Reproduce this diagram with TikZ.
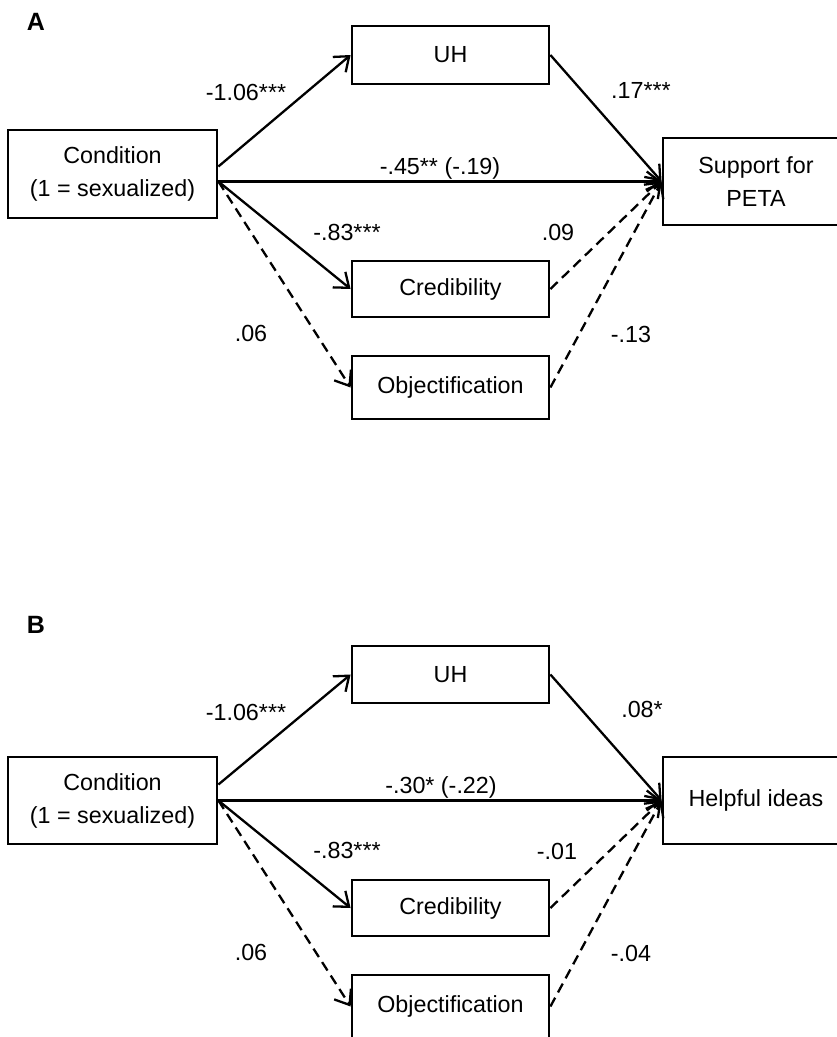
\documentclass[tikz,border=0pt]{standalone}
\usepackage{fontspec}
\setmainfont{Liberation Sans}
\usetikzlibrary{arrows.meta}
\begin{document}
\begin{tikzpicture}[x=1pt,y=-1pt,
  font=\fontsize{23.3}{33}\selectfont,
  box/.style={draw,line width=2.8pt,inner sep=0pt,align=center,anchor=center},
  med/.style={box,minimum width=197pt},
  con/.style={line width=2.3pt,-{Straight Barb[length=13pt,width=20pt,line width=2.3pt]}},
  dsh/.style={con,dash pattern=on 10pt off 6pt},
  lab/.style={anchor=base,inner sep=0pt},
  panel/.style={anchor=base,inner sep=0pt,font=\fontsize{25}{28}\selectfont\bfseries}]
\useasboundingbox (0,0) rectangle (837,1037);
\clip (0,0) rectangle (837,1037);
\fill[white] (0,0) rectangle (837,1037);
% ---------- Panel A ----------
\node[panel] (pA) at (36,30) {A};
\node[box,minimum width=209pt,minimum height=88pt] (condA) at (112.5,174) {Condition\\(1 = sexualized)};
\node[med,minimum height=58pt] (uhA) at (450.5,55) {UH};
\node[med,minimum height=56pt] (credA) at (450.5,289) {Credibility};
\node[med,minimum height=63pt] (objA) at (450.5,387.5) {Objectification};
\node[box,minimum width=186pt,minimum height=87pt] (suppA) at (756,181.5) {Support for\\PETA};
\draw[con] ([yshift=7.5pt]condA.east) -- (uhA.west);
\draw[con] ([yshift=-7.5pt]condA.east) -- (suppA.west);
\draw[con] ([yshift=-7.5pt]condA.east) -- (credA.west);
\draw[dsh] ([yshift=-7.5pt]condA.east) -- (objA.west);
\draw[con] (uhA.east) -- (suppA.west);
\draw[dsh] (credA.east) -- (suppA.west);
\draw[dsh] (objA.east) -- (suppA.west);
\node[lab] (a1) at (246,100) {-1.06***};
\node[lab] (a2) at (440,174) {-.45** (-.19)};
\node[lab] (a3) at (347,240) {-.83***};
\node[lab] (a4) at (251,341) {.06};
\node[lab] (a5) at (641,98) {.17***};
\node[lab] (a6) at (558,240) {.09};
\node[lab] (a7) at (631,342) {-.13};
% ---------- Panel B ----------
\node[panel] (pB) at (36,633) {B};
\node[box,minimum width=209pt,minimum height=87pt] (condB) at (112.5,800.5) {Condition\\(1 = sexualized)};
\node[med,minimum height=57pt] (uhB) at (450.5,674.5) {UH};
\node[med,minimum height=56pt] (credB) at (450.5,908) {Credibility};
\node[med,minimum height=63pt] (objB) at (450.5,1006.5) {Objectification};
\node[box,minimum width=186pt,minimum height=87pt] (helpB) at (756,800.5) {Helpful ideas};
\draw[con] ([yshift=16pt]condB.east) -- (uhB.west);
\draw[con] (condB.east) -- (helpB.west);
\draw[con] (condB.east) -- (credB.west);
\draw[dsh] (condB.east) -- (objB.west);
\draw[con] (uhB.east) -- (helpB.west);
\draw[dsh] (credB.east) -- (helpB.west);
\draw[dsh] (objB.east) -- (helpB.west);
\node[lab] (b1) at (246,720) {-1.06***};
\node[lab] (b2) at (441,793) {-.30* (-.22)};
\node[lab] (b3) at (347,858) {-.83***};
\node[lab] (b4) at (251,960) {.06};
\node[lab] (b5) at (642,717) {.08*};
\node[lab] (b6) at (557,859) {-.01};
\node[lab] (b7) at (631,961) {-.04};
\end{tikzpicture}
\end{document}
